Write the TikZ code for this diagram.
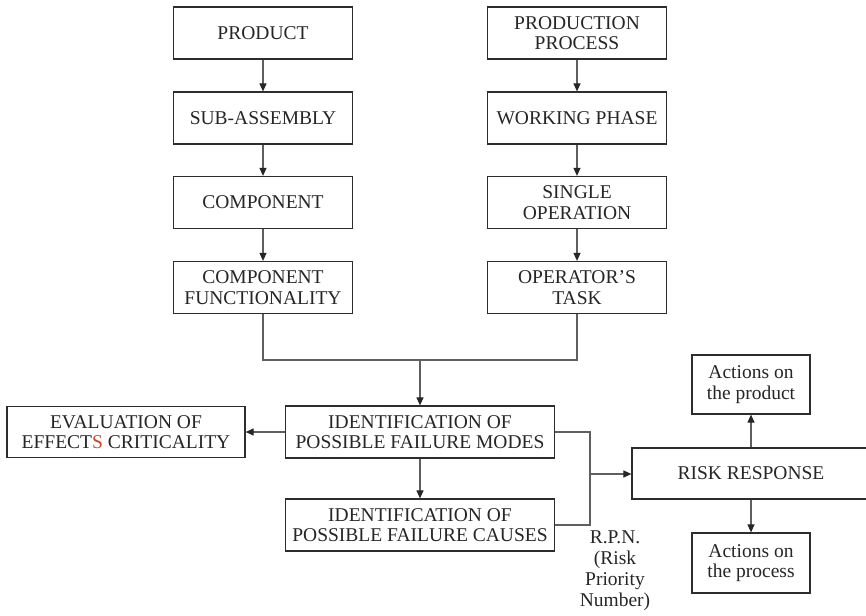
\documentclass[tikz,border=0pt]{standalone}
\usepackage{fontspec}
\setmainfont{Liberation Serif}
\usetikzlibrary{arrows.meta}
\definecolor{linegray}{RGB}{95,95,95}
\definecolor{boxline}{RGB}{45,45,45}
\definecolor{redS}{RGB}{205,70,45}
\tikzset{
  box/.style={draw=boxline, line width=1.2pt, fill=white, align=center, inner sep=2pt,
    font=\fontsize{19.5}{20.5}\selectfont, text=black!85},
  colbox/.style={box, minimum width=179pt, minimum height=52pt},
  conn/.style={draw=linegray, line width=1.1pt},
  arr/.style={conn, -{Triangle[length=8pt,width=7pt,color=black!85]}},
}
\begin{document}
\begin{tikzpicture}[x=1pt,y=-1pt]
\useasboundingbox (0,0) rectangle (866,615);
\clip (0,0) rectangle (866,615);
% left column
\node[colbox] (product) at (263,33) {PRODUCT};
\node[colbox] (subasm) at (263,118) {SUB-ASSEMBLY};
\node[colbox] (component) at (263,202.5) {COMPONENT};
\node[colbox] (compfunc) at (263,287.5) {COMPONENT\\FUNCTIONALITY};
% right column
\node[colbox] (process) at (577,33) {PRODUCTION\\PROCESS};
\node[colbox] (working) at (577,118) {WORKING PHASE};
\node[colbox] (single) at (577,202.5) {SINGLE\\OPERATION};
\node[colbox] (optask) at (577,287.5) {OPERATOR’S\\TASK};
% middle
\node[box, minimum width=269pt, minimum height=52pt] (modes) at (420,432) {IDENTIFICATION OF\\POSSIBLE FAILURE MODES};
\node[box, minimum width=269pt, minimum height=52pt] (causes) at (420,525) {IDENTIFICATION OF\\POSSIBLE FAILURE CAUSES};
\node[box, minimum width=238pt, minimum height=51pt] (eval) at (126,432) {EVALUATION OF\\EFFECT\textcolor{redS}{S} CRITICALITY};
% right side
\node[box, minimum width=250pt, minimum height=51pt] (risk) at (757,473.5) {RISK RESPONSE\hspace*{12pt}};
\node[box, minimum width=118pt, minimum height=59pt] (actprod) at (751,384.5) {Actions on\\the product};
\node[box, minimum width=118pt, minimum height=60pt] (actproc) at (751,563) {Actions on\\the process};
\node[align=center, font=\fontsize{19.5}{21}\selectfont, text=black!85, inner sep=0pt] (rpn) at (615,571) {R.P.N.\\(Risk\\Priority\\Number)};
% connectors
\draw[arr] (product) -- (subasm);
\draw[arr] (subasm) -- (component);
\draw[arr] (component) -- (compfunc);
\draw[arr] (process) -- (working);
\draw[arr] (working) -- (single);
\draw[arr] (single) -- (optask);
\coordinate (jl) at (263,360);
\coordinate (jr) at (577,360);
\coordinate (jm) at (420,360);
\draw[conn] (compfunc.south) -- (jl) -- (jr) -- (optask.south);
\draw[arr] (jm) -- (modes.north);
\draw[arr] (modes.west) -- (eval.east);
\draw[arr] (modes.south) -- (causes.north);
\coordinate (rt) at (590,432);
\coordinate (rb) at (590,525);
\coordinate (rm) at (590,474);
\draw[conn] (modes.east) -- (rt) -- (rb) -- (causes.east);
\draw[arr] (rm) -- (rm -| risk.west);
\draw[arr] (actprod |- risk.north) -- (actprod.south);
\draw[arr] (actproc |- risk.south) -- (actproc.north);
\end{tikzpicture}
\end{document}
